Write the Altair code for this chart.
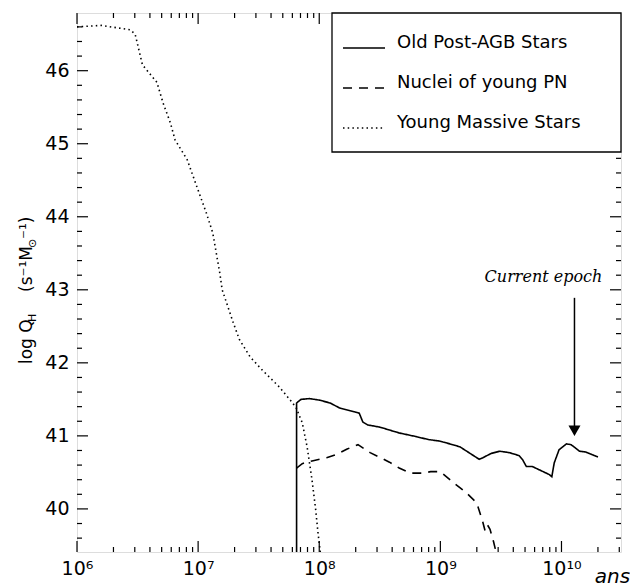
import altair as alt
import pandas as pd

# ---------------- data ----------------
series_names = ["Old Post-AGB Stars", "Nuclei of young PN", "Young Massive Stars"]

# Young Massive Stars (dotted)
ages_ms = [1.0e6, 1.58e6, 2.29e6, 2.75e6, 3.02e6, 3.47e6, 4.57e6, 5.13e6, 5.89e6, 6.46e6,
           8.13e6, 9.77e6, 1.17e7, 1.32e7, 1.51e7, 1.58e7, 1.95e7, 2.19e7, 2.69e7, 3.39e7,
           4.68e7, 6.03e7, 6.46e7, 7.24e7, 7.94e7, 8.71e7, 9.33e7, 9.77e7, 1.02e8]
logq_ms = [46.60, 46.62, 46.58, 46.56, 46.50, 46.08, 45.84, 45.56, 45.29, 45.05,
           44.78, 44.41, 44.05, 43.78, 43.23, 43.00, 42.55, 42.32, 42.08, 41.90,
           41.67, 41.45, 41.38, 41.18, 40.85, 40.40, 40.00, 39.67, 39.41]

# Old Post-AGB Stars (solid)
ages_agb = [6.5e7, 6.5e7, 7.08e7, 8.32e7, 1.0e8, 1.23e8, 1.48e8, 1.95e8, 2.14e8, 2.29e8,
            2.51e8, 3.16e8, 4.57e8, 6.31e8, 7.94e8, 9.77e8, 1.20e9, 1.45e9, 2.09e9, 2.24e9,
            2.63e9, 3.09e9, 3.72e9, 4.47e9, 4.79e9, 5.13e9, 5.75e9, 7.94e9, 8.32e9,
            8.71e9, 9.55e9, 1.10e10, 1.20e10, 1.41e10, 1.58e10, 2.0e10]
logq_agb = [39.41, 41.45, 41.50, 41.51, 41.49, 41.45, 41.38, 41.33, 41.31, 41.19,
            41.15, 41.12, 41.04, 40.99, 40.95, 40.93, 40.89, 40.85, 40.68, 40.70,
            40.76, 40.79, 40.77, 40.73, 40.67, 40.58, 40.58, 40.47, 40.44,
            40.63, 40.81, 40.89, 40.88, 40.79, 40.78, 40.71]

# Nuclei of young PN (dashed)
ages_pn = [6.5e7, 7.24e7, 7.94e7, 8.91e7, 1.15e8, 1.41e8, 1.70e8, 2.09e8, 2.63e8, 3.80e8,
           4.57e8, 5.62e8, 7.08e8, 8.32e8, 1.0e9, 1.26e9, 1.62e9, 2.0e9, 2.24e9, 2.34e9,
           2.45e9, 2.57e9, 2.75e9, 2.88e9]
logq_pn = [40.56, 40.62, 40.64, 40.66, 40.70, 40.75, 40.82, 40.88, 40.77, 40.64,
           40.56, 40.49, 40.49, 40.51, 40.51, 40.37, 40.23, 40.08, 39.82, 39.70,
           39.78, 39.72, 39.55, 39.41]

# "Current epoch" arrow
epoch_age = [1.28e10]
epoch_top = [42.89]
epoch_tip = [41.07]
epoch_text_y = [43.18]

x_major = [1e6, 1e7, 1e8, 1e9, 1e10]
x_minor = [m * d for d in [1e6, 1e7, 1e8, 1e9] for m in range(2, 10)] + [2e10, 3e10]
y_major = [40, 41, 42, 43, 44, 45, 46]
y_minor = [round(39.4 + 0.2 * i, 1) for i in range(38)]
y_minor = [v for v in y_minor if abs(v - round(v)) > 1e-6 and 39.41 <= v <= 46.79]

# ---------------- build table ----------------
rows = []
for name, xs, ys in [(series_names[0], ages_agb, logq_agb),
                     (series_names[1], ages_pn, logq_pn),
                     (series_names[2], ages_ms, logq_ms)]:
    for i, (a, q) in enumerate(zip(xs, ys)):
        rows.append({"series": name, "age": a, "logq": q, "idx": i})
df = pd.DataFrame(rows)

W, H = 544, 539
FONT = "DejaVu Sans"
dash_range = [[1, 0], [9, 7], [1.5, 3.2]]

xscale = alt.Scale(type="log", domain=[1e6, 3.1e10], nice=False)
yscale = alt.Scale(domain=[39.41, 46.79], nice=False, zero=False)

label_expr = ("'10' + (round(log(datum.value)/LN10) == 10 ? '¹⁰' : "
              "['','','','','','','⁶','⁷','⁸','⁹'][round(log(datum.value)/LN10)])")

xaxis = alt.Axis(values=x_major, labelExpr=label_expr, ticks=False,
                 domain=False, grid=False, labelFont=FONT, labelFontSize=19,
                 labelColor="black", labelPadding=7, labelFlush=False,
                 title="ans", titleFont=FONT, titleFontStyle="italic",
                 titleFontWeight="normal", titleFontSize=20, titleColor="black",
                 titleX=535, titleY=24, titleAlign="center",
                 titleBaseline="middle")
yaxis = alt.Axis(values=y_major, ticks=False, domain=False,
                 grid=False, labelFont=FONT, labelFontSize=19,
                 labelColor="black", labelPadding=8, title="")


def X(field="age"):
    return alt.X(f"{field}:Q", scale=xscale, axis=xaxis, title="ans")


def Y(field="logq"):
    return alt.Y(f"{field}:Q", scale=yscale, axis=yaxis, title="")


lines = alt.Chart(df).mark_line(color="black", strokeWidth=1.6, clip=True).encode(
    x=X(), y=Y(),
    strokeDash=alt.StrokeDash("series:N",
                              scale=alt.Scale(domain=series_names, range=dash_range),
                              legend=None),
    detail="series:N",
    order="idx:Q",
)

layers = [lines]


def xtick(vals, top, length):
    d = pd.DataFrame({"age": vals})
    y0 = 0 if top else H
    y1 = length if top else H - length
    return alt.Chart(d).mark_rule(color="black", strokeWidth=1.2).encode(
        x=X(), y=alt.value(y0), y2=alt.value(y1))


def ytick(vals, right, length):
    d = pd.DataFrame({"logq": vals})
    x0 = W if right else 0
    x1 = W - length if right else length
    return alt.Chart(d).mark_rule(color="black", strokeWidth=1.2).encode(
        y=Y(), x=alt.value(x0), x2=alt.value(x1))


for top in (False, True):
    layers.append(xtick(x_major, top, 11))
    layers.append(xtick(x_minor, top, 5))
for right in (False, True):
    layers.append(ytick(y_major, right, 11))
    layers.append(ytick(y_minor, right, 5))

# arrow for current epoch
arrow_df = pd.DataFrame({"age": epoch_age, "logq": epoch_top, "logq2": epoch_tip})
layers.append(alt.Chart(arrow_df).mark_rule(color="black", strokeWidth=1.5).encode(
    x=X(), y=Y(), y2="logq2:Q"))
head_df = pd.DataFrame({"age": epoch_age, "logq": epoch_tip})
layers.append(alt.Chart(head_df).mark_point(shape="triangle-down", filled=True, size=144,
                                             color="black", opacity=1).encode(
    x=X(), y=Y()))
text_df = pd.DataFrame({"age": epoch_age, "logq": epoch_text_y, "t": ["Current epoch"]})
layers.append(alt.Chart(text_df).mark_text(font="DejaVu Serif", fontStyle="italic",
                                           fontSize=16, color="black", dx=-31).encode(
    x=X(), y=Y(), text="t:N"))

one = alt.Data(values=[{}])

# legend box
LX0, LY1 = 255, 139
layers.append(alt.Chart(one).mark_rect(fill="white", stroke="black", strokeWidth=1.3).encode(
    x=alt.value(LX0), x2=alt.value(W), y=alt.value(0), y2=alt.value(LY1)))
for i, name in enumerate(series_names):
    yc = 30 + 40 * i
    layers.append(alt.Chart(one).mark_rule(color="black", strokeWidth=1.4,
                                           strokeDash=dash_range[i]).encode(
        x=alt.value(266), x2=alt.value(308), y=alt.value(yc + 5)))
    layers.append(alt.Chart(one).mark_text(text=name, font=FONT, fontSize=18, color="black",
                                           align="left", baseline="middle").encode(
        x=alt.value(320), y=alt.value(yc)))

# y-axis title pieces (rotated)
TX = -50


def tpiece(txt, ystart, dx=0, size=17):
    return alt.Chart(one).mark_text(text=txt, font=FONT, fontSize=size, color="black",
                                    angle=270, align="left", baseline="middle").encode(
        x=alt.value(TX + dx), y=alt.value(ystart))


layers.append(tpiece("log Q", 364 - 13))
layers.append(tpiece("H", 322 - 13, dx=6, size=11))
layers.append(tpiece("(s⁻¹M", 292 - 13))
layers.append(tpiece("⊙", 248 - 13, dx=6, size=11))
layers.append(tpiece("⁻¹)", 239 - 13))

chart = alt.layer(*layers).properties(
    width=W, height=H,
    autosize=alt.AutoSizeParams(type="none"),
    padding={"left": 77, "top": 13, "right": 9, "bottom": 34},
).configure_view(stroke="black", strokeWidth=1.6).configure(background="white")

chart.save("out.html", embed_options={"renderer": "svg", "actions": False})
